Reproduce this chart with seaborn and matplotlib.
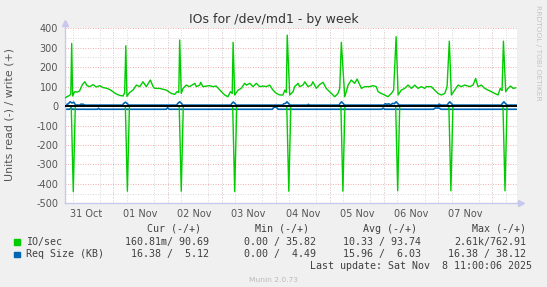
import matplotlib
matplotlib.use("Agg")
import matplotlib.pyplot as plt
import seaborn as sns
import pandas as pd
from matplotlib.ticker import MultipleLocator
from matplotlib.patches import Rectangle

# ---------------- data (hours since 31 Oct 00:00) ----------------
write_hours = [2.6, 3.4, 4.6, 5.1, 5.5, 5.9, 6.8, 8.0, 9.0, 10.2, 11.3, 12.3, 13.5, 15.0, 16.4, 17.9,
               19.4, 20.9, 22.4, 23.8, 25.3, 26.8, 28.3, 29.0, 29.5, 30.0, 31.2, 32.7, 34.2, 35.7,
               37.1, 38.6, 40.4, 41.6, 42.3, 44.5, 47.5, 49.7, 51.2, 52.2, 53.0, 53.4, 54.1, 54.9,
               56.3, 57.8, 60.1, 60.8, 62.3, 62.7, 63.7, 66.7, 68.2, 69.6, 71.9, 73.4, 74.8, 75.9,
               76.7, 77.1, 77.8, 79.3, 80.7, 82.2, 83.0, 84.5, 85.9, 87.4, 88.9, 90.4, 91.8, 93.3,
               94.8, 96.3, 97.8, 99.2, 100.0, 100.7, 101.1, 102.2, 103.7, 104.4, 105.9, 106.6,
               108.1, 108.9, 110.3, 111.8, 112.5, 114.0, 115.5, 117.0, 118.4, 119.9, 121.4, 122.2,
               123.6, 124.4, 125.1, 126.6, 127.3, 128.1, 129.5, 131.0, 132.1, 133.3, 134.0, 135.5,
               137.7, 139.2, 140.6, 141.4, 142.8, 144.3, 145.8, 147.3, 148.3, 149.4, 150.3, 151.7,
               153.2, 154.7, 156.2, 157.7, 159.1, 160.6, 162.1, 162.8, 165.0, 166.5, 168.0, 169.5,
               171.0, 172.0, 173.0, 173.9, 175.4, 176.9, 178.3, 179.8, 182.1, 183.5, 184.7, 185.7,
               187.2, 188.7, 190.2, 191.6, 193.2, 194.6, 195.6, 196.4, 197.0, 198.0, 199.0, 200.1,
               201.3, 202.5]
write_iops = [42, 48, 55, 62, 322, 52, 74, 72, 78, 110, 125, 105, 100, 110, 98, 105,
              95, 92, 85, 74, 62, 55, 52, 70, 310, 50, 70, 82, 108, 100,
              125, 100, 134, 100, 91, 91, 82, 65, 60, 74, 70, 340, 65, 91,
              108, 100, 117, 100, 108, 122, 100, 105, 100, 103, 74, 57, 48, 74,
              65, 328, 57, 82, 91, 117, 108, 117, 100, 117, 100, 103, 100, 108,
              82, 65, 57, 57, 82, 70, 365, 57, 74, 100, 117, 100,
              108, 125, 100, 108, 125, 91, 111, 122, 91, 74, 57, 48,
              65, 91, 328, 48, 74, 108, 134, 117, 139, 108, 91, 100,
              100, 105, 100, 74, 65, 57, 48, 65, 82, 357, 57, 82,
              91, 108, 91, 108, 91, 100, 91, 100, 100, 82, 65, 57,
              65, 100, 334, 57, 82, 108, 100, 108, 100, 108, 142, 100,
              108, 91, 82, 74, 65, 57, 91, 80, 334, 74, 91, 103,
              91, 94]

read_hours = [2.6, 5.3, 6.2, 7.1, 29.3, 30.2, 31.1, 53.2, 54.1, 55.0, 76.9, 77.8, 78.7,
              100.9, 101.8, 102.7, 124.9, 125.8, 126.7, 149.2, 150.1, 151.0, 172.8, 173.7,
              174.6, 196.8, 197.7, 198.6, 202.8]
read_iops = [-1, -1, -440, -1, -1, -438, -1, -1, -438, -1, -1, -440, -1,
             -1, -438, -1, -1, -438, -1, -1, -436, -1, -1, -436,
             -1, -1, -436, -1, -1]

req_write_hours = [2.6, 4.0, 4.8, 5.6, 6.4, 7.2, 9.0, 9.6, 10.6, 11.4, 28.0, 28.6, 29.4, 30.2,
                   30.8, 52.0, 52.6, 53.4, 54.2, 54.8, 76.0, 76.6, 77.2, 78.0, 78.6, 99.0, 99.6,
                   100.4, 101.0, 101.8, 102.4, 110.0, 110.5, 111.0, 124.0, 124.6, 125.2, 126.0,
                   126.6, 144.0, 144.6, 145.4, 146.2, 147.0, 147.8, 148.6, 149.4, 150.2, 150.8,
                   168.0, 168.6, 169.2, 172.0, 172.6, 173.2, 174.0, 174.6, 196.0, 196.6, 197.2,
                   198.0, 198.6, 202.8]
req_write_kb = [5, 12, 22, 16, 20, 6, 5, 10, 9, 5, 5, 14, 20, 12,
                5, 5, 14, 22, 14, 5, 5, 14, 21, 12, 5, 5, 12,
                14, 22, 12, 5, 5, 9, 5, 5, 14, 22, 12,
                5, 5, 12, 9, 12, 5, 14, 12, 22, 12, 5,
                5, 10, 5, 5, 14, 22, 12, 5, 5, 14, 22,
                12, 5, 5]

req_read_hours = [2.6, 4.6, 5.2, 5.8, 17.0, 17.4, 17.8, 47.4, 48.0, 48.8, 94.5, 95.2, 96.3,
                  97.0, 143.0, 143.6, 144.3, 166.0, 166.8, 168.5, 169.3, 202.8]
req_read_kb = [-16.4, -16.4, -9, -16.4, -16.4, -11, -16.4, -16.4, -9, -16.4, -16.4, -6, -6,
               -16.4, -16.4, -10, -16.4, -16.4, -10, -10, -16.4, -16.4]

day_labels = ["31 Oct", "01 Nov", "02 Nov", "03 Nov", "04 Nov", "05 Nov", "06 Nov", "07 Nov"]
label_hours = [12, 36, 60, 84, 108, 132, 156, 180]
y_ticks = [-500, -400, -300, -200, -100, 0, 100, 200, 300, 400]

legend_rows = [
    ("IO/sec", "160.81m/ 90.69", "0.00 / 35.82", "10.33 / 93.74", "2.61k/762.91"),
    ("Req Size (KB)", "16.38 /  5.12", "0.00 /  4.49", "15.96 /  6.03", "16.38 / 38.12"),
]
headers = ["Cur (-/+)", "Min (-/+)", "Avg (-/+)", "Max (-/+)"]

GREEN = "#00CC00"
BLUE = "#0066B3"

# ---------------- figure ----------------
sns.set_style("white")
plt.rcParams["font.family"] = ["DejaVu Sans"]

W, H = 547, 287
fig = plt.figure(figsize=(W / 100, H / 100), dpi=100, facecolor="#F0F0F0")
L, R, T, B = 65, 516.5, 28.3, 203.3
ax = fig.add_axes([L / W, 1 - B / H, (R - L) / W, (B - T) / H])
ax.set_facecolor("white")

ax.set_xlim(2.53, 202.8)
ax.set_ylim(-500, 400)

# grid
MINOR_C = "#DADADA"
MAJOR_C = "#F4B0B0"
ax.xaxis.set_minor_locator(MultipleLocator(6))
ax.yaxis.set_major_locator(MultipleLocator(100))
ax.yaxis.set_minor_locator(MultipleLocator(50))
ax.grid(which="minor", axis="both", color=MINOR_C, linestyle=(0, (1, 1.5)), linewidth=0.72, zorder=0)
ax.grid(which="major", axis="y", color=MAJOR_C, linestyle=(0, (1, 1.5)), linewidth=0.72, zorder=0.5)
for d in range(24, 203, 24):
    ax.axvline(d, color=MAJOR_C, linestyle=(0, (1, 1.5)), linewidth=0.72, zorder=0.5)
ax.set_axisbelow(True)

# data
sns.lineplot(x=req_read_hours, y=req_read_kb, ax=ax, color=BLUE, linewidth=1.2,
             estimator=None, sort=False, zorder=2)
sns.lineplot(x=req_write_hours, y=req_write_kb, ax=ax, color=BLUE, linewidth=1.2,
             estimator=None, sort=False, zorder=2)
sns.lineplot(x=write_hours, y=write_iops, ax=ax, color=GREEN, linewidth=1.0,
             estimator=None, sort=False, zorder=3)
sns.lineplot(x=read_hours, y=read_iops, ax=ax, color=GREEN, linewidth=1.0,
             estimator=None, sort=False, zorder=3)
ax.axhline(0, color="black", linewidth=1.4, zorder=4)

# ticks
ax.set_xticks(label_hours)
ax.set_xticklabels(day_labels)
ax.set_yticks(y_ticks)
ax.set_yticklabels([str(v) for v in y_ticks])
ax.tick_params(axis="x", which="major", length=0, pad=4, labelsize=7, labelcolor="#555555")
ax.tick_params(axis="x", which="minor", length=2, color=MINOR_C, direction="out")
ax.tick_params(axis="y", which="major", length=2, color="#E8A0A0", pad=3, labelsize=7, labelcolor="#555555")
ax.tick_params(axis="y", which="minor", length=2, color=MINOR_C)
ax.set_xlabel("")
ax.set_ylabel("")

for s in ["top", "right"]:
    ax.spines[s].set_visible(False)
for s in ["left", "bottom"]:
    ax.spines[s].set_color("#C8C8EE")
    ax.spines[s].set_linewidth(1.0)
# axis arrows
ax.plot([0, 0], [1.0, 1.025], transform=ax.transAxes, color="#C8C8EE", lw=1.0, clip_on=False)
ax.plot([0], [1.03], marker="^", ms=4, color="#C8C8EE", transform=ax.transAxes, clip_on=False)
ax.plot([1.0, 1.008], [0, 0], transform=ax.transAxes, color="#C8C8EE", lw=1.0, clip_on=False)
ax.plot([1.011], [0], marker=">", ms=4, color="#C8C8EE", transform=ax.transAxes, clip_on=False)

# texts
def ft(x, y, s, **kw):
    fig.text(x / W, 1 - y / H, s, **kw)

ft(273.5, 20, "IOs for /dev/md1 - by week", ha="center", va="center", fontsize=9, color="#333333")
ft(10, 114, "Units read (-) / write (+)", ha="center", va="center", rotation=90, fontsize=7.9, color="#555555")
ft(538, 5, "RRDTOOL / TOBI OETIKER", ha="center", va="top", rotation=270, fontsize=5.4, color="#C4C4C4")
ft(273, 279.5, "Munin 2.0.73", ha="center", va="center", fontsize=5.4, color="#BBBBBB")

mono = dict(family="DejaVu Sans Mono", fontsize=7.2, color="#404040", va="center")
head_right = [200.6, 309, 417, 526]
val_right = [209, 316, 421, 526]
for h, xr in zip(headers, head_right):
    ft(xr, 228.6, h, ha="right", **mono)
row_y = [241.9, 254.3]
for (name, *vals), yy, col in zip(legend_rows, row_y, [GREEN, BLUE]):
    fig.patches.append(Rectangle((14 / W, 1 - (yy + 2.8) / H), 5.6 / W, 5.6 / H,
                                 transform=fig.transFigure, color=col, figure=fig))
    ft(26, yy, name, ha="left", **mono)
    for v, xr in zip(vals, val_right):
        ft(xr, yy, v, ha="right", **mono)
ft(532, 266.3, "Last update: Sat Nov  8 11:00:06 2025", ha="right", **mono)

fig.savefig("out.png", dpi=100, facecolor=fig.get_facecolor())
